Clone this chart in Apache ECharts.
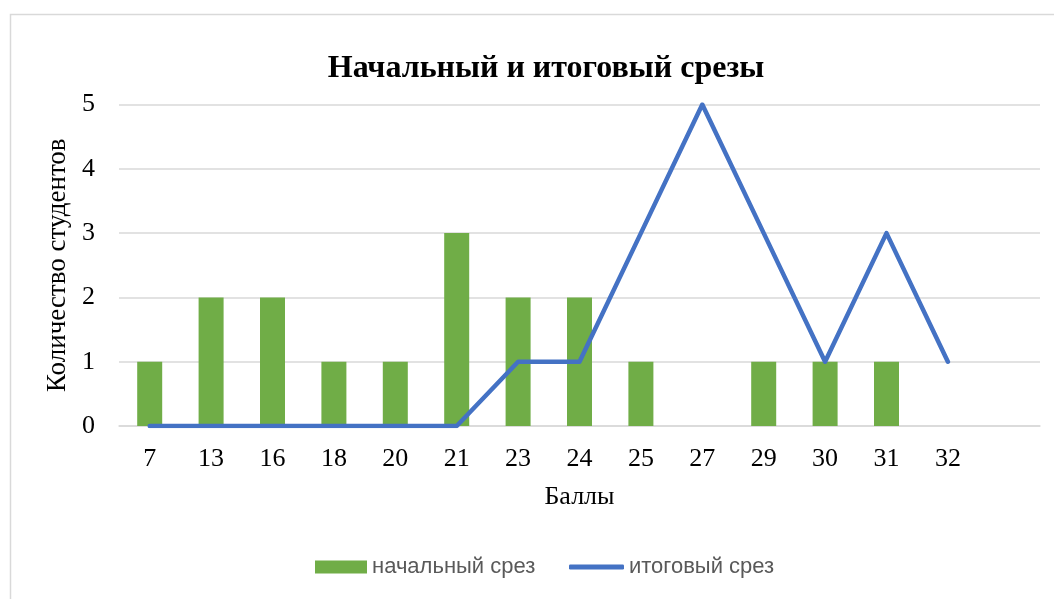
<!DOCTYPE html>
<html><head><meta charset="utf-8">
<script src="https://cdn.jsdelivr.net/npm/echarts@6/dist/echarts.min.js"></script>
<style>html,body{margin:0;padding:0;background:#fff}#c{width:1054px;height:599px}</style>
</head><body><div id="c"></div>
<script>
const categories = ['7','13','16','18','20','21','23','24','25','27','29','30','31','32',''];
const initialCut = [1,2,2,1,1,3,2,2,1,0,1,1,1,0,null];
const finalCut = [0,0,0,0,0,0,1,1,3,5,3,1,3,1,null];
const yTicks = [0,1,2,3,4,5];
const serif = "'Liberation Serif', 'Times New Roman', serif";
const sans = "'Liberation Sans', Arial, sans-serif";
const chart = echarts.init(document.getElementById('c'));
chart.setOption({
  animation: false,
  backgroundColor: '#fff',
  graphic: [{type:'rect', shape:{x:10.5,y:14.5,width:1100,height:700}, style:{fill:'none', stroke:'#d9d9d9', lineWidth:1.5}, silent:true, z:-10}],
  title: {text:'Начальный и итоговый срезы', left:541, top:48, textAlign:'center',
    textStyle:{fontFamily:serif, fontWeight:'bold', fontSize:32, color:'#000'}},
  grid: {left:119, right:14, top:104.5, bottom:173, containLabel:false},
  legend: [
    {top:551, left:310, itemGap:0, itemWidth:52, itemHeight:13, icon:'rect',
      textStyle:{fontFamily:sans, fontSize:22, color:'#595959'}, data:['начальный срез']},
    {top:551, left:564, itemGap:0, itemWidth:55, itemHeight:5, icon:'roundRect',
      textStyle:{fontFamily:sans, fontSize:22, color:'#595959'}, data:['итоговый срез']}
  ],
  xAxis: {type:'category', data:categories, name:'Баллы', nameLocation:'middle', nameGap:58,
    nameTextStyle:{fontFamily:serif, fontSize:26, color:'#000'},
    axisLine:{show:true, lineStyle:{color:'#d9d9d9', width:1.5}}, axisTick:{show:false},
    axisLabel:{fontFamily:serif, fontSize:26, color:'#000', margin:20, interval:0}},
  yAxis: {type:'value', min:0, max:5, interval:1, name:'Количество студентов', nameLocation:'middle', nameGap:43,
    nameTextStyle:{fontFamily:serif, fontSize:27, color:'#000'},
    axisLine:{show:false}, axisTick:{show:false},
    splitLine:{lineStyle:{color:'#d9d9d9', width:1.5}},
    axisLabel:{fontFamily:serif, fontSize:26, color:'#000', margin:24, formatter: v => yTicks.includes(v) ? String(v) : ''}},
  series: [
    {name:'начальный срез', type:'bar', data:initialCut, barWidth:25, itemStyle:{color:'#70AD47'}},
    {name:'итоговый срез', type:'line', data:finalCut, symbol:'none', lineStyle:{color:'#4472C4', width:4.5, cap:'round', join:'round'}, itemStyle:{color:'#4472C4'}, z:3}
  ]
});
</script></body></html>
